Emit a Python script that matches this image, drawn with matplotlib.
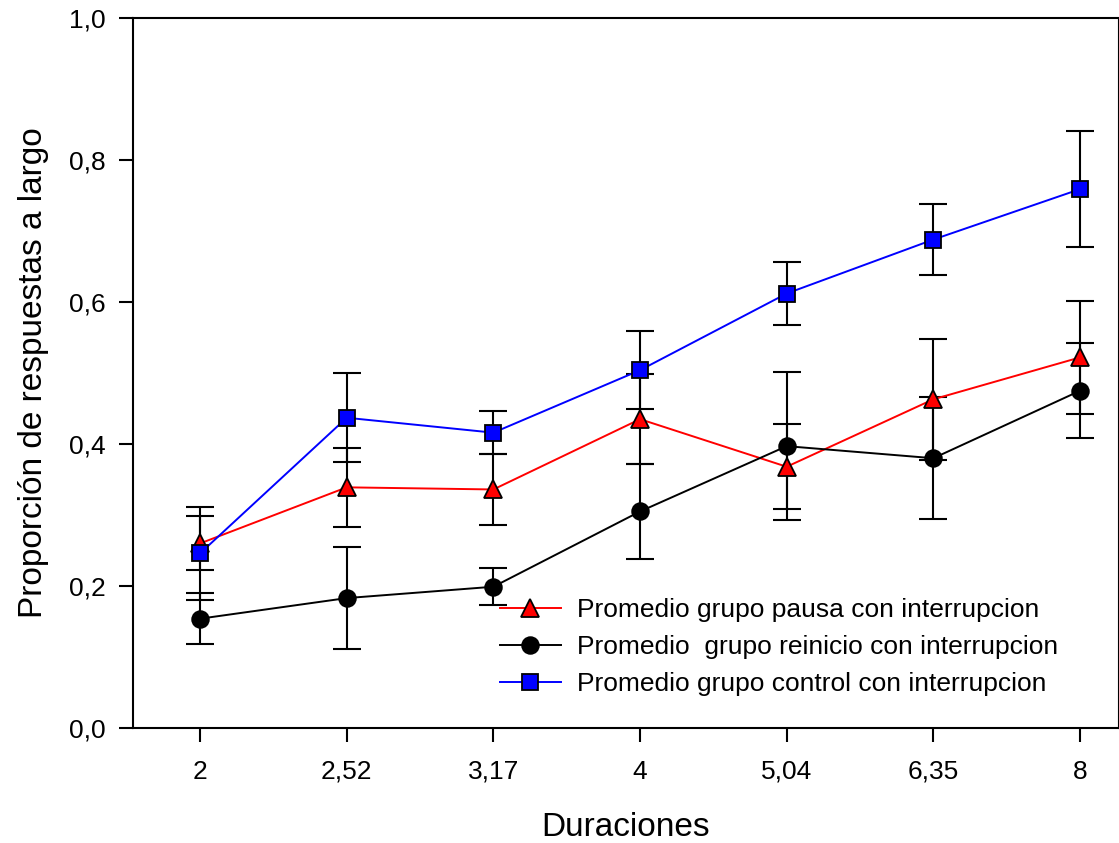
import matplotlib
matplotlib.use('Agg')
import matplotlib.pyplot as plt
import numpy as np

plt.rcParams['font.family'] = ['Liberation Sans', 'DejaVu Sans']

# Duraciones (categorias del eje x)
duraciones = ['2', '2,52', '3,17', '4', '5,04', '6,35', '8']

pausa_media = [0.260, 0.339, 0.336, 0.435, 0.368, 0.463, 0.522]
pausa_error = [0.038, 0.056, 0.050, 0.063, 0.060, 0.085, 0.080]

reinicio_media = [0.154, 0.183, 0.199, 0.305, 0.397, 0.380, 0.475]
reinicio_error = [0.036, 0.072, 0.026, 0.067, 0.104, 0.086, 0.067]

control_media = [0.246, 0.437, 0.416, 0.504, 0.612, 0.688, 0.759]
control_error = [0.066, 0.063, 0.030, 0.055, 0.044, 0.050, 0.082]

yticks = [0.0, 0.2, 0.4, 0.6, 0.8, 1.0]
ytick_labels = ['0,0', '0,2', '0,4', '0,6', '0,8', '1,0']

fig = plt.figure(figsize=(11.19, 8.43), dpi=100)
ax = fig.add_axes([0.1189, 0.1364, 0.8802, 0.8422])

x = np.arange(len(duraciones))

series = [
    (pausa_media, pausa_error, 'red', '^', 12.5, 'Promedio grupo pausa con interrupcion'),
    (reinicio_media, reinicio_error, 'black', 'o', 12, 'Promedio  grupo reinicio con interrupcion'),
    (control_media, control_error, 'blue', 's', 11.5, 'Promedio grupo control con interrupcion'),
]

# barras de error primero, marcadores encima
for media, error, color, marker, ms, label in series:
    ax.errorbar(x, media, yerr=error, fmt='none', ecolor='black',
                elinewidth=1.5, capsize=10, capthick=1.5, zorder=2)

for media, error, color, marker, ms, label in series:
    ax.plot(x, media, color=color, linewidth=1.4, marker=marker,
            markersize=ms, markerfacecolor=color, markeredgecolor='black',
            markeredgewidth=1.3, label=label, zorder=3)

ax.set_xlim(-0.457, 6.259)
ax.set_ylim(0, 1.0)
ax.set_xticks(x)
ax.set_xticklabels(duraciones)
ax.set_yticks(yticks)
ax.set_yticklabels(ytick_labels)

ax.tick_params(axis='both', direction='out', length=10, width=1.5, labelsize=19)
ax.tick_params(axis='x', pad=13)
ax.tick_params(axis='y', pad=10)

for side in ['left', 'bottom', 'top']:
    ax.spines[side].set_linewidth(1.5)
ax.spines['right'].set_linewidth(0.8)

ax.set_xlabel('Duraciones', fontsize=24, labelpad=20)
ax.set_ylabel('Proporción de respuestas a largo', fontsize=24, labelpad=14)

ax.legend(loc='upper left', bbox_to_anchor=(500 / 1119, 1 - 598 / 843),
          bbox_transform=fig.transFigure, frameon=False, fontsize=19,
          handlelength=2.3, handletextpad=0.6, labelspacing=0.5,
          borderpad=0, borderaxespad=0)

fig.savefig('out.png', dpi=100)
